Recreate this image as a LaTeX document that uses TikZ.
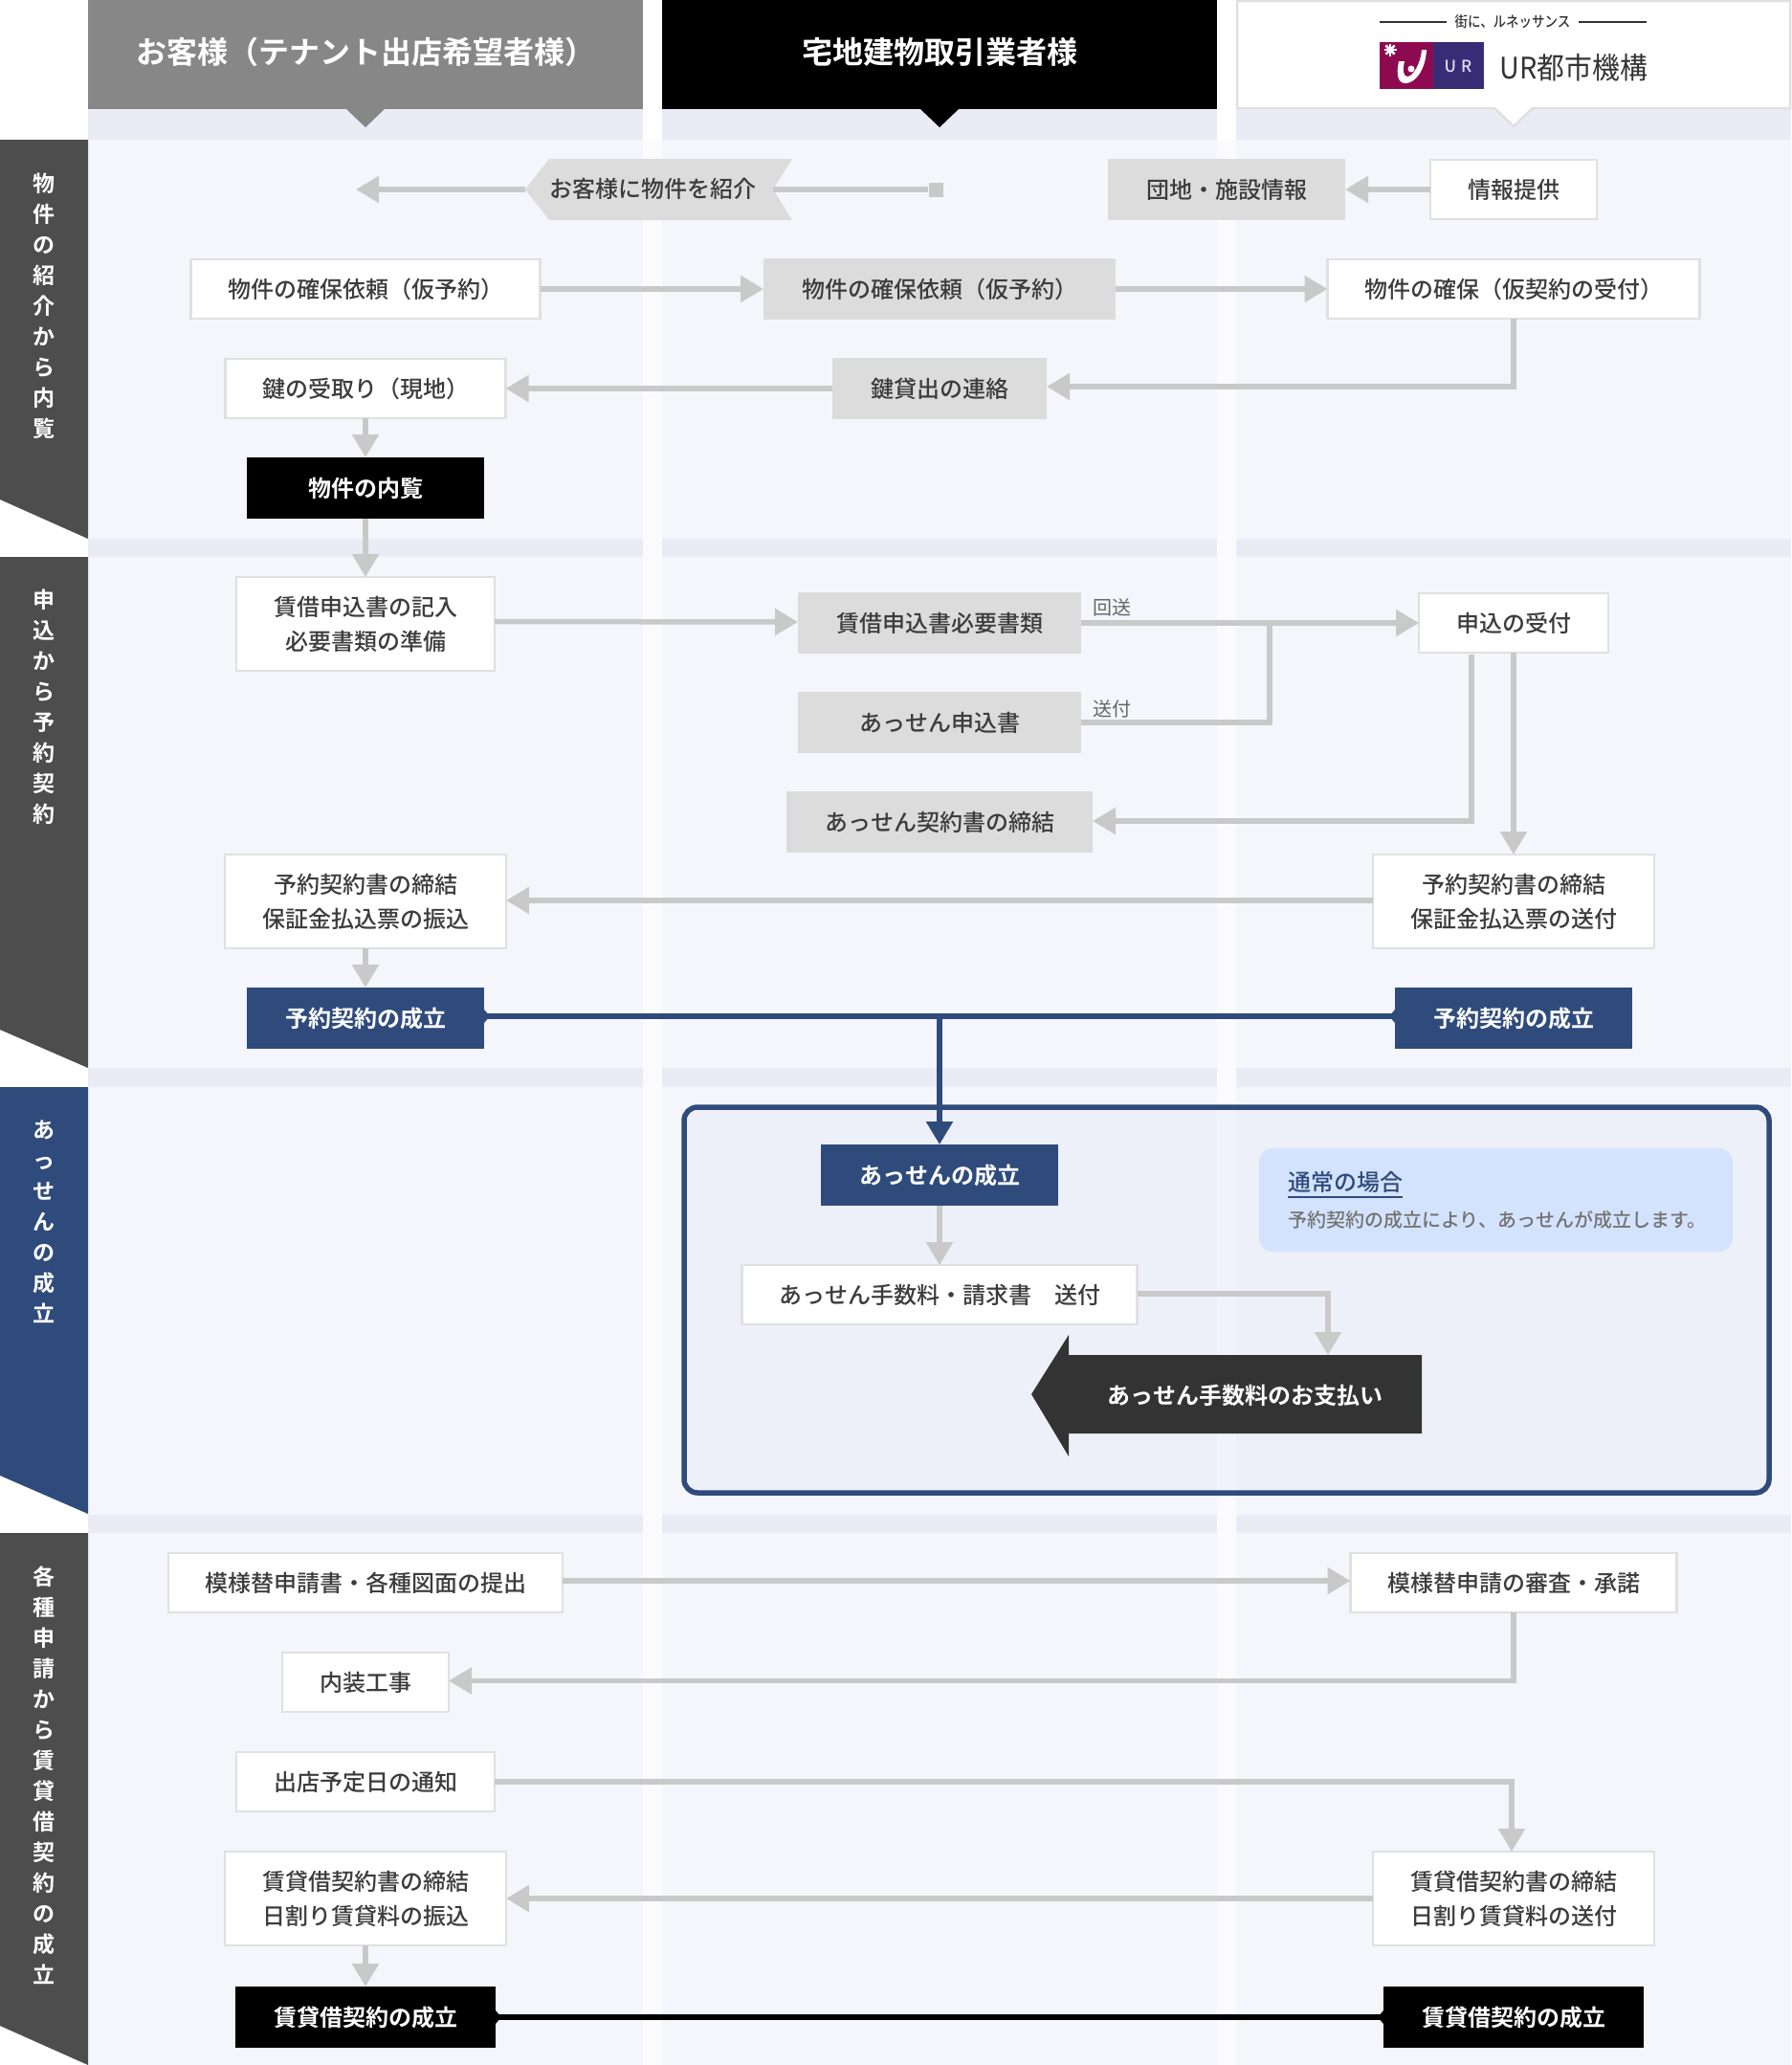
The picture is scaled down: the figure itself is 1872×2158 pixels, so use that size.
\documentclass[tikz,border=0pt]{standalone}
\usepackage{fontspec}
\setmainfont{Noto Sans CJK JP Medium}[BoldFont={Noto Sans CJK JP Bold}]
\newfontfamily\lightjp{Noto Sans CJK JP}
\usepackage{xcolor}
\usetikzlibrary{arrows.meta, calc}
\definecolor{navy}{HTML}{2F4B7C}
\definecolor{ink}{HTML}{3C3C3C}
\definecolor{arrowblack}{HTML}{333333}
\definecolor{tabgray}{HTML}{4D4D4D}
\definecolor{flowgray}{HTML}{C9C9C9}
\definecolor{boxgray}{HTML}{DCDCDC}
\definecolor{edgegray}{HTML}{E0E0E0}
\definecolor{paleband}{HTML}{EAEBF5}
\definecolor{palesec}{HTML}{F5F6FB}
\definecolor{palegap}{HTML}{FBFBFE}
\definecolor{noteblue}{HTML}{D4E3FD}
\definecolor{framefill}{HTML}{E7ECF9}
\definecolor{urred}{HTML}{8E0A50}
\definecolor{urblue}{HTML}{392C77}
\tikzset{
  cell/.style={inner sep=0pt, outer sep=0pt, minimum height=64pt, align=center, text=ink,
    font=\fontsize{24}{36}\selectfont},
  boxw/.style={cell, draw=edgegray, line width=2.5pt, fill=white},
  boxg/.style={cell, fill=boxgray},
  boxk/.style={cell, fill=black, text=white, font=\fontsize{24}{36}\selectfont\bfseries},
  boxb/.style={cell, fill=navy, text=white, font=\fontsize{24}{36}\selectfont\bfseries},
  head/.style={inner sep=0pt, text=white, font=\fontsize{32}{36}\selectfont\bfseries},
  tabtext/.style={inner sep=0pt, anchor=north, align=center, text=white,
    font=\fontsize{23}{32}\selectfont\bfseries},
  flow/.style={draw=flowgray, line width=5.5pt, -{Triangle[length=24pt,width=27pt]}},
  flowplain/.style={draw=flowgray, line width=5.5pt},
  navyflow/.style={draw=navy, line width=5.5pt, -{Triangle[length=24pt,width=27pt]}},
  tiny/.style={inner sep=0pt, text=black!60, font=\lightjp\fontsize{20}{24}\selectfont},
}
\begin{document}
\begin{tikzpicture}[x=1pt, y=-1pt]
  \useasboundingbox (0,0) rectangle (1872,2158);
  \fill[white] (0,0) rectangle (1872,2158);

  % column bands and sections
  \fill[palesec] (92,146) rectangle (1872,2158);
  \foreach \cx/\cw in {92/580,692/580,1292/580} {
    \fill[paleband] (\cx,114) rectangle ++(\cw,32);
    \fill[paleband] (\cx,563) rectangle ++(\cw,19);
    \fill[paleband] (\cx,1116) rectangle ++(\cw,20);
    \fill[paleband] (\cx,1583) rectangle ++(\cw,19);
  }
  \fill[palegap] (672,146) rectangle (692,2158);
  \fill[palegap] (1272,146) rectangle (1292,2158);

  % headers
  \fill[black!47] (92,0) rectangle (672,114);
  \fill[black!47] (362,114) -- (402,114) -- (382,133) -- cycle;
  \node[head] (custhead) at (382,54) {お客様（テナント出店希望者様）};
  \fill[black] (692,0) rectangle (1272,114);
  \fill[black] (962,114) -- (1002,114) -- (982,133) -- cycle;
  \node[head] (agenthead) at (982,54) {宅地建物取引業者様};
  \draw[edgegray, line width=2.5pt, fill=white] (1293,1) -- (1871,1) -- (1871,113) -- (1602,113)
    -- (1582,132) -- (1562,113) -- (1293,113) -- cycle;

  % UR logo
  \draw[arrowblack, line width=1.2pt] (1442,23) -- (1512,23);
  \draw[arrowblack, line width=1.2pt] (1650,23) -- (1721,23);
  \node[inner sep=0pt, text=arrowblack, xscale=.87, transform shape, font=\fontsize{15.5}{16}\selectfont] (urcopy) at (1581,23) {街に、ルネッサンス};
  \fill[urred] (1442,44) rectangle (1498,93);
  \fill[urblue] (1498,44) rectangle (1551,93);
  \fill[white] (1462,64) .. controls (1459,78) and (1461,87) .. (1469,87)
    .. controls (1480,87) and (1490,72) .. (1491,52) -- (1486,52)
    .. controls (1485,66) and (1477,80) .. (1471,80)
    .. controls (1466,80) and (1466,72) .. (1468,64) -- cycle;
  \fill[white] (1475,72) circle (3.5pt);
  \foreach \a in {0,45,90,135} {
    \draw[white, line width=2.5pt] ($(1453,52)+(\a:6.5)$) -- ($(1453,52)+(\a:-6.5)$);
  }
  \node[inner sep=0pt, text=white!85!urblue, font=\fontsize{17}{18}\selectfont] (urmark) at (1524,69.5) {U\hspace{5pt}R};
  \node[inner sep=0pt, text=arrowblack, xscale=.93, transform shape, font=\lightjp\fontsize{31}{36}\selectfont] (urname) at (1645,71) {UR都市機構};

  % left tabs
  \fill[tabgray] (0,146) -- (92,146) -- (92,563) -- (0,522) -- cycle;
  \node[tabtext] (tabone) at (46,181) {物\\件\\の\\紹\\介\\か\\ら\\内\\覧};
  \fill[tabgray] (0,582) -- (92,582) -- (92,1116) -- (0,1076) -- cycle;
  \node[tabtext] (tabtwo) at (46,616) {申\\込\\か\\ら\\予\\約\\契\\約};
  \fill[navy] (0,1136) -- (92,1136) -- (92,1582) -- (0,1542) -- cycle;
  \node[tabtext] (tabthree) at (46,1171) {あ\\っ\\せ\\ん\\の\\成\\立};
  \fill[tabgray] (0,1602) -- (92,1602) -- (92,2158) -- (0,2117) -- cycle;
  \node[tabtext] (tabfour) at (46,1636) {各\\種\\申\\請\\か\\ら\\賃\\貸\\借\\契\\約\\の\\成\\立};

  % section 1
  \fill[boxgray] (549,198) -- (574,166) -- (828,166) -- (808,198) -- (828,230) -- (574,230) -- cycle;
  \node[inner sep=0pt, text=ink, font=\fontsize{24}{36}\selectfont] (promo) at (682,197) {お客様に物件を紹介};
  \coordinate (promoL) at (549,198);
  \coordinate (promoR) at (808,198);
  \coordinate (promoEnd) at (372,198);
  \node[fill=flowgray, minimum size=15pt, inner sep=0pt] (stub) at (978,198) {};
  \node[boxg, minimum width=248pt] (estate) at (1282,198) {団地・施設情報};
  \node[boxw, minimum width=174pt, minimum height=62pt] (info) at (1582,198) {情報提供};
  \node[boxw, minimum width=365pt, minimum height=62pt] (reqa) at (382,302) {物件の確保依頼（仮予約）};
  \node[boxg, minimum width=368pt] (reqb) at (982,302) {物件の確保依頼（仮予約）};
  \node[boxw, minimum width=389pt, minimum height=62pt] (hold) at (1582,302) {物件の確保（仮契約の受付）};
  \node[boxw, minimum width=293pt, minimum height=62pt] (keyget) at (382,406) {鍵の受取り（現地）};
  \node[boxg, minimum width=224pt] (keylend) at (982,406) {鍵貸出の連絡};
  \node[boxk, minimum width=248pt] (visit) at (382,510) {物件の内覧};

  \draw[flow] (promoL) -- (promoEnd);
  \draw[flowplain] (stub) -- (promoR);
  \draw[flow] (info) -- (estate);
  \draw[flow] (reqa) -- (reqb);
  \draw[flow] (reqb) -- (hold);
  \draw[flow] (hold.south) |- ([yshift=2pt]keylend.east);
  \draw[flow] (keylend) -- (keyget);
  \draw[flow] (keyget) -- (visit);

  % section 2
  \node[boxw, minimum width=270pt, minimum height=98pt] (appla) at (382,652) {賃借申込書の記入\\必要書類の準備};
  \node[boxg, minimum width=296pt] (applb) at (982,651) {賃借申込書必要書類};
  \node[boxw, minimum width=198pt, minimum height=62pt] (applc) at (1582,651) {申込の受付};
  \node[boxg, minimum width=296pt] (medapp) at (982,755) {あっせん申込書};
  \node[boxg, minimum width=320pt] (medcon) at (982,859) {あっせん契約書の締結};
  \node[boxw, minimum width=294pt, minimum height=98pt] (resa) at (382,942) {予約契約書の締結\\保証金払込票の振込};
  \node[boxw, minimum width=294pt, minimum height=98pt] (resb) at (1582,942) {予約契約書の締結\\保証金払込票の送付};
  \node[boxb, minimum width=248pt] (doneL) at (382,1064) {予約契約の成立};
  \node[boxb, minimum width=248pt] (doneR) at (1582,1064) {予約契約の成立};
  \node[tiny] (sendback) at (1162,635) {回送};
  \node[tiny] (sendout) at (1162,741) {送付};
  \coordinate (bend) at (1538,684);

  \draw[flow] (visit) -- (appla);
  \draw[flow] ([yshift=2.5pt]appla.east) -- ([yshift=1pt]applb.west);
  \draw[flow] (applb) -- (applc);
  \draw[flowplain] (medapp.east) -| (1327,651);
  \draw[flow] (bend) |- ([yshift=1pt]medcon.east);
  \draw[flow] (applc.south) -- (resb.north);
  \draw[flow] ([yshift=1pt]resb.west) -- ([yshift=1pt]resa.east);
  \draw[flow] (resa) -- (doneL);

  % section 3
  \draw[navy, line width=5.5pt, fill=framefill, fill opacity=.5, rounded corners=14pt]
    (715,1157) rectangle (1849,1560);
  \node[boxb, minimum width=248pt] (medok) at (982,1228) {あっせんの成立};
  \node[boxw, minimum width=413pt, minimum height=62pt] (feebill) at (982,1353) {あっせん手数料・請求書　送付};
  \fill[arrowblack] (1486,1416) -- (1486,1498) -- (1117,1498) -- (1117,1522) -- (1078,1457)
    -- (1117,1395) -- (1117,1416) -- cycle;
  \node[inner sep=0pt, text=white, font=\fontsize{24}{36}\selectfont\bfseries] (feepay) at (1301,1458) {あっせん手数料のお支払い};
  \coordinate (feetop) at (1388,1416);
  \fill[noteblue, rounded corners=14pt] (1316,1200) rectangle (1811,1308);
  \node[inner sep=0pt, anchor=west, text=navy, font=\fontsize{24}{28}\selectfont] (notehead) at (1346,1235) {通常の場合};
  \draw[navy, line width=2pt] (notehead.west |- 0,1251) -- (notehead.east |- 0,1251);
  \node[inner sep=0pt, anchor=west, text=black!55, font=\fontsize{20}{24}\selectfont] (notebody) at (1346,1275) {予約契約の成立により、あっせんが成立します。};

  \coordinate (meet) at (982,1062);
  \draw[navy, line width=5.5pt] ([yshift=2pt]doneL.east) -- ([yshift=2pt]doneR.west);
  \fill[navy] ([yshift=9pt]doneL.east) -- ([shift={(6pt,2pt)}]doneL.east) -- ([yshift=-5pt]doneL.east) -- cycle;
  \fill[navy] ([yshift=9pt]doneR.west) -- ([shift={(-6pt,2pt)}]doneR.west) -- ([yshift=-5pt]doneR.west) -- cycle;
  \draw[navyflow] (meet) -- (medok);
  \draw[flow] (medok) -- (feebill);
  \draw[flow] ([yshift=1pt]feebill.east) -| (feetop);

  % section 4
  \node[boxw, minimum width=412pt, minimum height=62pt] (planA) at (382,1654) {模様替申請書・各種図面の提出};
  \node[boxw, minimum width=341pt, minimum height=62pt] (planB) at (1582,1654) {模様替申請の審査・承諾};
  \node[boxw, minimum width=174pt, minimum height=62pt] (works) at (382,1758) {内装工事};
  \node[boxw, minimum width=270pt, minimum height=62pt] (notice) at (382,1862) {出店予定日の通知};
  \node[boxw, minimum width=294pt, minimum height=98pt] (leaseA) at (382,1984) {賃貸借契約書の締結\\日割り賃貸料の振込};
  \node[boxw, minimum width=294pt, minimum height=98pt] (leaseB) at (1582,1984) {賃貸借契約書の締結\\日割り賃貸料の送付};
  \node[boxk, minimum width=272pt] (finalL) at (382,2108) {賃貸借契約の成立};
  \node[boxk, minimum width=272pt] (finalR) at (1582,2108) {賃貸借契約の成立};

  \draw[flow] ([yshift=2pt]planA.east) -- ([yshift=2pt]planB.west);
  \draw[flow] (planB.south) |- ([yshift=1.5pt]works.east);
  \draw[flow] (notice.east) -| ([xshift=-2pt]leaseB.north);
  \draw[flow] (leaseB) -- (leaseA);
  \draw[flow] (leaseA) -- (finalL);
  \draw[black, line width=6pt] (finalL) -- (finalR);
  \fill[black] ([yshift=7pt]finalL.east) -- ([xshift=6pt]finalL.east) -- ([yshift=-7pt]finalL.east) -- cycle;
  \fill[black] ([yshift=7pt]finalR.west) -- ([xshift=-6pt]finalR.west) -- ([yshift=-7pt]finalR.west) -- cycle;
\end{tikzpicture}
\end{document}
